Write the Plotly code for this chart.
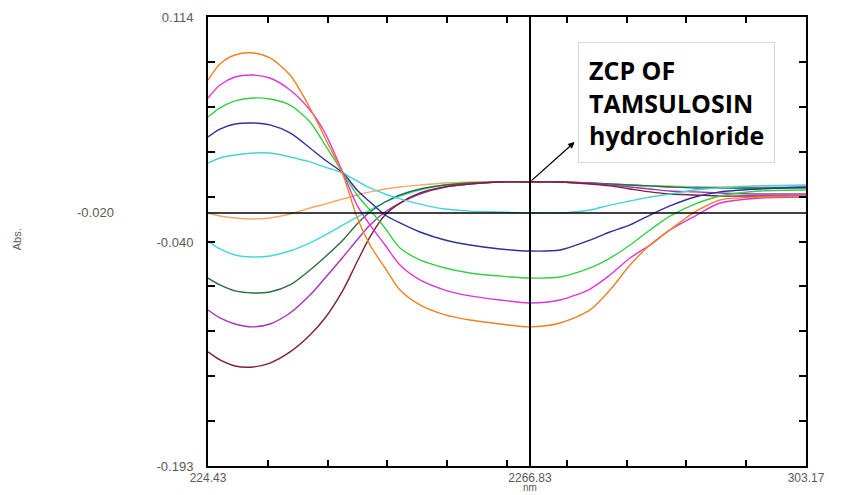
import plotly.graph_objects as go

# wavelength grid (nm)
wavelength = [224.43, 226.01, 227.99, 230.36, 232.59, 235.23, 237.86, 239.84, 242.21, 244.05,
              245.76, 247.74, 249.71, 252.34, 255.64, 258.93, 262.88, 266.83, 270.78, 274.73,
              277.36, 280.00, 282.63, 285.26, 288.55, 291.85, 297.11, 303.17]

# group that starts high (positive lobe first)
a_orange = [0.0709, 0.0819, 0.0880, 0.0894, 0.0860, 0.0743, 0.0518, 0.0313, 0.0060, -0.0228,
            -0.0419, -0.0576, -0.0727, -0.0829, -0.0897, -0.0932, -0.0959, -0.0979, -0.0952, -0.0863,
            -0.0727, -0.0556, -0.0419, -0.0316, -0.0193, -0.0111, -0.0091, -0.0084]
a_magenta = [0.0586, 0.0675, 0.0730, 0.0743, 0.0723, 0.0641, 0.0504, 0.0347, 0.0073, -0.0146,
             -0.0282, -0.0419, -0.0556, -0.0658, -0.0727, -0.0767, -0.0795, -0.0815, -0.0795, -0.0720,
             -0.0624, -0.0508, -0.0419, -0.0316, -0.0221, -0.0132, -0.0098, -0.0091]
a_green = [0.0456, 0.0518, 0.0566, 0.0586, 0.0579, 0.0538, 0.0422, 0.0265, 0.0073, -0.0077,
           -0.0180, -0.0303, -0.0439, -0.0521, -0.0576, -0.0610, -0.0631, -0.0645, -0.0638, -0.0576,
           -0.0508, -0.0419, -0.0316, -0.0221, -0.0139, -0.0084, -0.0050, -0.0043]
a_navy = [0.0320, 0.0374, 0.0408, 0.0415, 0.0402, 0.0347, 0.0244, 0.0162, 0.0073, -0.0043,
          -0.0125, -0.0214, -0.0268, -0.0330, -0.0385, -0.0419, -0.0446, -0.0460, -0.0453, -0.0385,
          -0.0330, -0.0282, -0.0214, -0.0152, -0.0091, -0.0056, -0.0036, -0.0022]
a_cyan = [0.0142, 0.0176, 0.0196, 0.0210, 0.0210, 0.0183, 0.0149, 0.0114, 0.0073, 0.0019,
          -0.0029, -0.0070, -0.0104, -0.0139, -0.0173, -0.0187, -0.0193, -0.0200, -0.0200, -0.0180,
          -0.0146, -0.0118, -0.0091, -0.0070, -0.0043, -0.0029, -0.0015, -0.0009]

# group that starts low and passes through the zero-crossing point
b_orange = [-0.0200, -0.0221, -0.0234, -0.0241, -0.0234, -0.0207, -0.0166, -0.0139, -0.0104, -0.0077,
            -0.0056, -0.0036, -0.0022, -0.0009, 0.0005, 0.0012, 0.0012, 0.0012, 0.0012, 0.0005,
            -0.0002, -0.0009, -0.0015, -0.0015, -0.0022, -0.0022, -0.0015, -0.0015]
b_cyan = [-0.0392, -0.0446, -0.0487, -0.0501, -0.0494, -0.0460, -0.0405, -0.0351, -0.0282, -0.0228,
          -0.0180, -0.0125, -0.0084, -0.0043, -0.0009, 0.0005, 0.0012, 0.0012, 0.0012, 0.0005,
          -0.0002, -0.0009, -0.0015, -0.0022, -0.0022, -0.0029, -0.0029, -0.0022]
b_darkgreen = [-0.0645, -0.0692, -0.0733, -0.0747, -0.0740, -0.0692, -0.0590, -0.0501, -0.0385, -0.0275,
               -0.0193, -0.0125, -0.0077, -0.0036, -0.0009, 0.0005, 0.0012, 0.0012, 0.0012, 0.0005,
               -0.0002, -0.0009, -0.0015, -0.0022, -0.0029, -0.0029, -0.0029, -0.0029]
b_purple = [-0.0863, -0.0918, -0.0959, -0.0979, -0.0959, -0.0884, -0.0761, -0.0645, -0.0501, -0.0385,
            -0.0282, -0.0193, -0.0132, -0.0070, -0.0022, -0.0002, 0.0012, 0.0012, 0.0012, 0.0005,
            -0.0009, -0.0022, -0.0036, -0.0050, -0.0056, -0.0063, -0.0070, -0.0070]
b_darkred = [-0.1150, -0.1205, -0.1246, -0.1253, -0.1226, -0.1150, -0.1034, -0.0918, -0.0727, -0.0535,
             -0.0364, -0.0214, -0.0132, -0.0063, -0.0022, -0.0002, 0.0012, 0.0012, 0.0012, -0.0002,
             -0.0015, -0.0036, -0.0056, -0.0070, -0.0077, -0.0084, -0.0084, -0.0084]

series = [
    ("b_orange", b_orange, "#F2A868"),
    ("b_cyan", b_cyan, "#45D6DE"),
    ("b_darkgreen", b_darkgreen, "#2C6E3E"),
    ("b_purple", b_purple, "#A435B4"),
    ("b_darkred", b_darkred, "#7C2232"),
    ("a_cyan", a_cyan, "#45D2DA"),
    ("a_navy", a_navy, "#30309A"),
    ("a_green", a_green, "#34D044"),
    ("a_magenta", a_magenta, "#E034DA"),
    ("a_orange", a_orange, "#F08224"),
]

x_min, x_max = 224.43, 303.17
y_min, y_max = -0.193, 0.114
zcp_x, zcp_y = 266.83, 0.0012
baseline_y = -0.020

x_labels = ["224.43", "2266.83", "303.17"]
x_label_vals = [224.43, 266.83, 303.17]
y_labels = ["0.114", "-0.040", "-0.193"]
y_label_vals = [0.114, -0.040, -0.193]

x_div = [x_min + i * (x_max - x_min) / 10 for i in range(1, 10)]
y_div = [y_min + i * (y_max - y_min) / 10 for i in range(1, 10)]

fig = go.Figure()
for name, vals, col in series:
    fig.add_trace(go.Scatter(x=wavelength, y=vals, mode="lines", name=name,
                             line=dict(color=col, width=1.4, shape="spline", smoothing=0.8),
                             showlegend=False, hoverinfo="skip"))

fig.add_vline(x=zcp_x, line=dict(color="black", width=2))
fig.add_hline(y=baseline_y, line=dict(color="black", width=1.5))

tick_font = dict(family="Liberation Sans, Arial, sans-serif", size=13, color="#5a5a5a")
xtick_font = dict(family="Liberation Sans, Arial, sans-serif", size=12, color="#5a5a5a")

fig.update_xaxes(range=[x_min, x_max], showgrid=False, zeroline=False, automargin=False,
                 showline=True, linecolor="black", linewidth=2, mirror="allticks",
                 tickvals=x_label_vals, ticktext=x_labels, ticks="",
                 minor=dict(tickvals=x_div, ticks="inside", ticklen=6, tickwidth=2, tickcolor="black"),
                 tickfont=xtick_font, ticklabelstandoff=0)
fig.update_yaxes(range=[y_min, y_max], showgrid=False, zeroline=False, automargin=False,
                 showline=True, linecolor="black", linewidth=2, mirror="allticks",
                 tickvals=y_label_vals, ticktext=y_labels, ticks="",
                 minor=dict(tickvals=y_div, ticks="inside", ticklen=7, tickwidth=1.5, tickcolor="black"),
                 tickfont=tick_font, ticklabelstandoff=10)

# offset label of the baseline
fig.add_annotation(text="-0.020", xref="paper", yref="y", x=0, y=baseline_y,
                   xanchor="right", yanchor="middle", xshift=-92, showarrow=False,
                   font=tick_font)
# axis titles
fig.add_annotation(text="Abs.", xref="paper", yref="paper", x=0, y=0.505, textangle=-90,
                   xanchor="center", yanchor="middle", xshift=-191, showarrow=False,
                   font=dict(family="Liberation Sans, Arial, sans-serif", size=11, color="#5a5a5a"))
fig.add_annotation(text="nm", xref="x", yref="paper", x=zcp_x, y=0,
                   xanchor="center", yanchor="bottom", yshift=-29, showarrow=False,
                   font=dict(family="Liberation Sans, Arial, sans-serif", size=10, color="#5a5a5a"))

# ZCP callout box
fig.add_annotation(text="<b>ZCP OF<br>TAMSULOSIN<br>hydrochloride</b>",
                   xref="x", yref="y", x=273.15, y=0.0555, xanchor="left", yanchor="middle",
                   align="left", showarrow=False, borderpad=10,
                   bordercolor="#d8d8d8", borderwidth=1, bgcolor="white",
                   font=dict(family="Open Sans, Lato, sans-serif", size=25, color="black"))
# arrow from the zero-crossing point to the box
fig.add_annotation(text="", xref="x", yref="y", x=272.7, y=0.0285,
                   axref="x", ayref="y", ax=zcp_x, ay=zcp_y,
                   showarrow=True, arrowhead=2, arrowsize=1, arrowwidth=1.3, arrowcolor="black")

# page body has an 8px margin, so the figure is sized to fit the 842x495 window
fig.update_layout(width=834, height=487, margin=dict(l=200, r=36, t=9, b=29),
                  plot_bgcolor="white", paper_bgcolor="white")

fig.write_html("out.html")
